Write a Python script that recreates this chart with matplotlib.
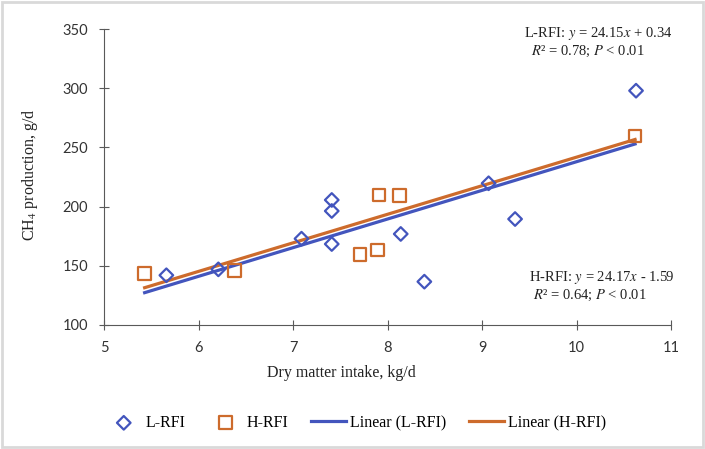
import matplotlib.pyplot as plt
from matplotlib.patches import Rectangle

# L-RFI animals (dry matter intake kg/d, CH4 g/d)
l_dmi = [5.66, 6.21, 7.09, 7.41, 7.41, 7.41, 8.14, 8.39, 9.07, 9.35, 10.63]
l_ch4 = [142.0, 147.0, 172.9, 205.6, 196.3, 168.4, 176.9, 136.6, 219.7, 189.5, 297.9]
# H-RFI animals
h_dmi = [5.43, 6.38, 7.71, 7.89, 7.91, 8.13, 10.62]
h_ch4 = [143.3, 145.9, 159.7, 163.3, 209.8, 209.2, 259.6]

# trendline end points as drawn in the chart
trend_x = [5.43, 10.62]
l_trend = [127.3, 252.9]
h_trend = [131.5, 256.7]

blue = '#4355BD'
orange = '#CD6B2C'
W, H = 705, 449

plt.rcParams['font.family'] = ['Liberation Serif', 'DejaVu Serif']
plt.rcParams['mathtext.fontset'] = 'stix'

fig = plt.figure(figsize=(7.05, 4.49), dpi=100)
ax = fig.add_axes([104 / W, 1 - 325 / H, 567 / W, 296 / H])

ax.scatter(l_dmi, l_ch4, marker='D', s=48, facecolors='none', edgecolors=blue,
           linewidths=1.6, label='L-RFI', zorder=3)
ax.scatter(h_dmi, h_ch4, marker='s', s=85, facecolors='none', edgecolors=orange,
           linewidths=1.6, label='H-RFI', zorder=3)
ax.plot(trend_x, l_trend, color=blue, lw=2.3, label='Linear (L-RFI)', zorder=2)
ax.plot(trend_x, h_trend, color=orange, lw=2.3, label='Linear (H-RFI)', zorder=2)

ax.set_xlim(5, 11)
ax.set_ylim(100, 350)
ax.set_xticks(range(5, 12))
ax.set_yticks(range(100, 351, 50))
ax.spines['top'].set_visible(False)
ax.spines['right'].set_visible(False)
for s in ('left', 'bottom'):
    ax.spines[s].set_color('#595959')
ax.tick_params(direction='inout', length=7, color='#595959', pad=8,
               labelsize=10.5, labelcolor='#333333')
for lab in ax.get_xticklabels() + ax.get_yticklabels():
    lab.set_family('Lato')

fig.text(341 / W, 1 - 373 / H, 'Dry matter intake, kg/d', ha='center', va='center',
         fontsize=11.5, color='#222222')
fig.text(30 / W, 1 - 175 / H, 'CH$_4$ production, g/d', ha='center', va='center',
         rotation=90, fontsize=11.5, color='#222222')

notes = [(673, 34, 'L-RFI: $y$ = 24.15$x$ + 0.34'),
         (645, 51, '$R$² = 0.78; $P$ < 0.01'),
         (674, 278, 'H-RFI: $y$ = 24.17$x$ - 1.59'),
         (647, 295, '$R$² = 0.64; $P$ < 0.01')]
for px, py, txt in notes:
    fig.text(px / W, 1 - py / H, txt, ha='right', va='center', fontsize=10.5,
             color='#222222')

fig.legend(loc='center', bbox_to_anchor=(356 / W, 1 - 423 / H), ncol=4, frameon=False,
           fontsize=11.5, handlelength=2.2, columnspacing=1.4, handletextpad=0.25)

fig.patches.append(Rectangle((0.003, 0.005), 0.994, 0.99, transform=fig.transFigure,
                             fill=False, edgecolor='#d9d9d9', lw=2))

fig.savefig('out.png', dpi=100)
